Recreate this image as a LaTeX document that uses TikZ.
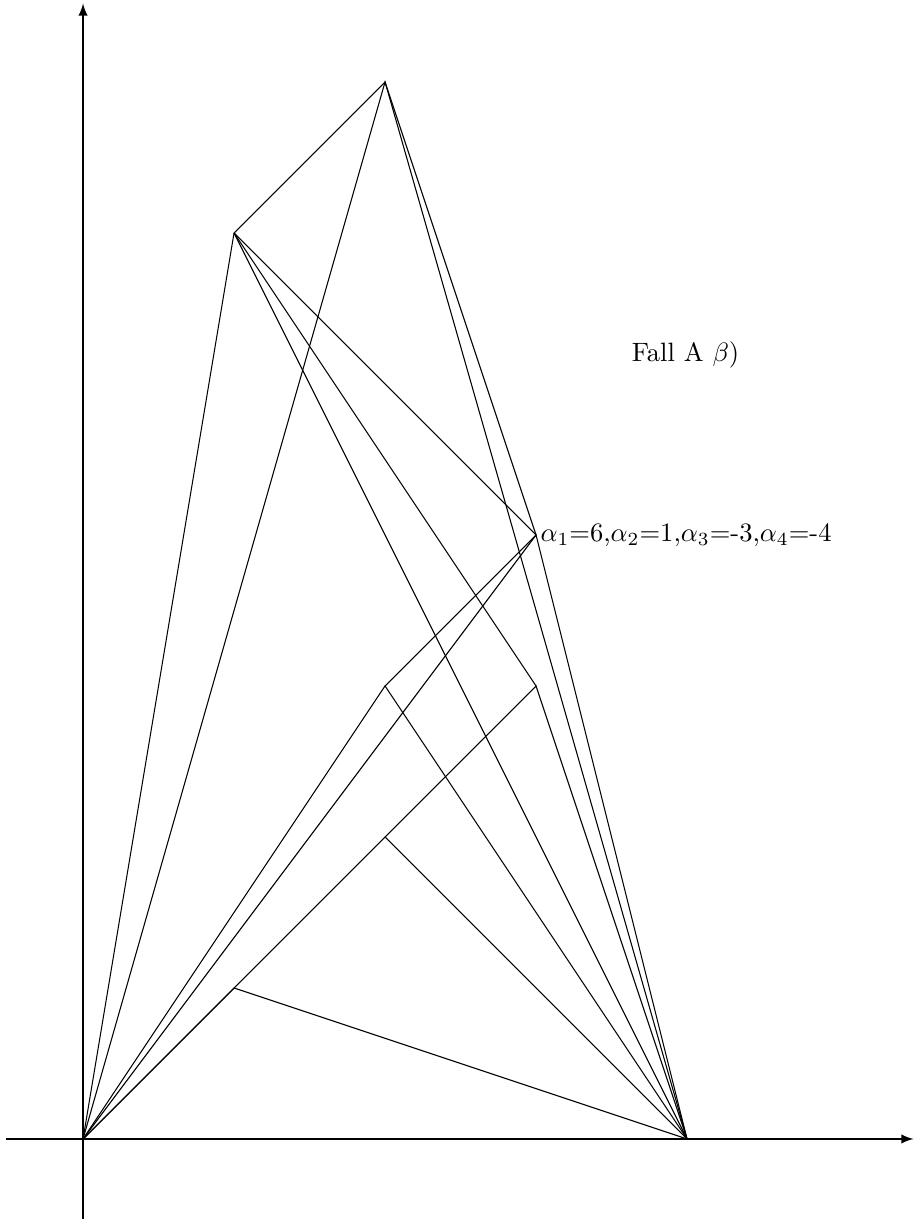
\documentclass[tikz,border=0pt]{standalone}
\usepackage{tikz}
\usetikzlibrary{positioning, arrows}
\tikzset{
	axisline/.style={
			semithick,
			-latex
		},
	pathline/.style={
			black,
			thin
		},
	pointnode/.style={
			coordinate
		},
	labelnode/.style={
			anchor=west,
			inner sep=1.5pt
		}
}

\begin{document}
\begin{tikzpicture}[scale=2]
\useasboundingbox (-0.55,-0.53) rectangle (5.497,7.543);
% axes
\coordinate (xl) at (-0.51,0);
\coordinate (xr) at (5.5,0);
\coordinate (yb) at (0,-0.53);
\coordinate (yt) at (0,7.52);
\draw[axisline] (xl) -- (xr);
\draw[axisline] (yb) -- (yt);

% lattice points
\node[pointnode] (p00) at (0,0) {};
\node[pointnode] (p40) at (4,0) {};
\node[pointnode] (p11) at (1,1) {};
\node[pointnode] (p22) at (2,2) {};
\node[pointnode] (p33) at (3,3) {};
\node[pointnode] (p23) at (2,3) {};
\node[pointnode] (p34) at (3,4) {};
\node[pointnode] (p16) at (1,6) {};
\node[pointnode] (p27) at (2,7) {};

% paths
\draw[pathline] (p00) -- (p11) -- (p40);
\draw[pathline] (p00) -- (p22) -- (p40);
\draw[pathline] (p22) -- (p33) -- (p40);
\draw[pathline] (p00) -- (p23) -- (p40);
\draw[pathline] (p23) -- (p34);
\draw[pathline] (p00) -- (p34) -- (p40);
\draw[pathline] (p00) -- (p16) -- (p27) -- (p40);
\draw[pathline] (p00) -- (p27) -- (p34);
\draw[pathline] (p16) -- (p34);
\draw[pathline] (p16) -- (p33);
\draw[pathline] (p16) -- (p40);

% labels
\node[labelnode] (alpha) at (p34) {$\alpha_1$=6,$\alpha_2$=1,$\alpha_3$=-3,$\alpha_4$=-4};
\node (fall) at (3.99,5.19) {Fall A $\beta$)};
\end{tikzpicture}
\end{document}
